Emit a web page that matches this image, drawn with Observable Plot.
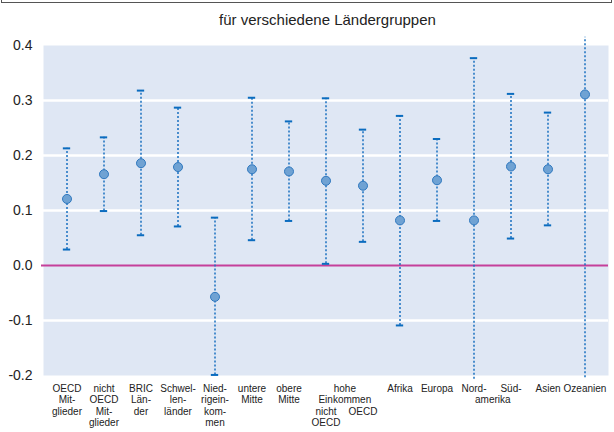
<!DOCTYPE html>
<html>
<head>
<meta charset="utf-8">
<script src="https://cdn.jsdelivr.net/npm/d3@7"></script>
<script src="https://cdn.jsdelivr.net/npm/@observablehq/plot@0.6"></script>
<style>
  html, body { margin: 0; padding: 0; background: white; overflow: hidden; }
  #wrap { position: relative; width: 614px; height: 432px; font-family: "Liberation Sans", Arial, sans-serif; }
  #topbox { position: absolute; top: -12px; left: 1px; width: 609px; height: 13px; border: 1.5px solid #555; }
  #title { position: absolute; top: 11px; left: 0; width: 614px; box-sizing: border-box; padding-left: 41px;
           text-align: center; font-size: 15px; line-height: 18px; color: #222; }
  #chart { position: absolute; top: 0; left: 0; }
</style>
</head>
<body>
<div id="wrap">
  <div id="chart"></div>
  <div id="topbox"></div>
  <div id="title">für verschiedene Ländergruppen</div>
</div>
<script>
// ---- data ----
const categories = ["OECD Mitglieder", "nicht OECD Mitglieder", "BRIC Länder", "Schwellenländer",
  "Niedrigeinkommen", "untere Mitte", "obere Mitte", "hohe Einkommen nicht OECD", "hohe Einkommen OECD",
  "Afrika", "Europa", "Nordamerika", "Südamerika", "Asien", "Ozeanien"];
const estimate = [0.121, 0.166, 0.186, 0.179, -0.057, 0.175, 0.171, 0.154, 0.145, 0.082, 0.155, 0.082, 0.180, 0.175, 0.311];
const upper    = [0.213, 0.233, 0.318, 0.287, 0.087, 0.305, 0.262, 0.304, 0.247, 0.272, 0.230, 0.377, 0.312, 0.278, 0.415];
const lower    = [0.029, 0.099, 0.055, 0.071, -0.199, 0.046, 0.081, 0.003, 0.043, -0.109, 0.081, -0.207, 0.049, 0.073, -0.204];
// tick labels (row 1 onward)
const tickLabels = ["OECD\nMit-\nglieder", "nicht\nOECD\nMit-\nglieder", "BRIC\nLän-\nder", "Schwel-\nlen-\nländer",
  "Nied-\nrigein-\nkom-\nmen", "untere\nMitte", "obere\nMitte", "", "",
  "Afrika", "Europa", "Nord-", "Süd-", "Asien", "Ozeanien"];
// labels starting on a lower row
const subLabels = [
  {cat: "hohe Einkommen nicht OECD", text: "nicht\nOECD", row: 2},
  {cat: "hohe Einkommen OECD", text: "OECD", row: 2}
];
// labels shared between two neighbouring columns (placed at the left one, shifted half a column)
const spanLabels = [
  {cat: "hohe Einkommen nicht OECD", text: "hohe\nEinkommen", row: 0},
  {cat: "Nordamerika", text: "amerika", row: 1}
];
const yTicks = [-0.2, -0.1, 0, 0.1, 0.2, 0.3, 0.4];

// ---- build ----
const data = categories.map((c, i) => ({cat: c, est: estimate[i], lo: lower[i], hi: upper[i]}));
const caps = [];
data.forEach(d => {
  [d.lo, d.hi].forEach(v => { if (v >= -0.2005 && v <= 0.4005) caps.push({cat: d.cat, v}); });
});
const labels = categories.map((c, i) => ({cat: c, text: tickLabels[i]}));

const W = 614, H = 432, mL = 43, mR = 6, mT = 45, mB = 57;
const step = (W - mL - mR) / categories.length;
const fs = 10, lh = 1.15, rowPx = fs * lh, baseDy = 8;

const chart = Plot.plot({
  width: W, height: H,
  marginTop: mT, marginBottom: mB, marginLeft: mL, marginRight: mR,
  style: {fontFamily: "'Liberation Sans', Arial, sans-serif", background: "transparent", overflow: "visible"},
  x: {type: "band", domain: categories, padding: 0, axis: null},
  y: {domain: [-0.2, 0.4], axis: null},
  marks: [
    Plot.frame({fill: "#dfe7f4", stroke: "none"}),
    Plot.gridY(yTicks.filter(v => v > -0.2 && v < 0.4 && v !== 0), {stroke: "white", strokeOpacity: 1, strokeWidth: 2.5}),
    Plot.ruleY([0], {stroke: "#c5409a", strokeWidth: 2, insetLeft: -2}),
    Plot.axisY(yTicks, {tickSize: 0, tickPadding: 11, fontSize: 14, fill: "#222", tickFormat: v => v.toFixed(1)}),
    Plot.ruleX(data, {x: "cat", y1: "lo", y2: "hi", stroke: "#1a70c0", strokeWidth: 1.5, strokeDasharray: "2,2"}),
    Plot.tickY(caps, {x: "cat", y: "v", stroke: "#0b6cbf", strokeWidth: 2, insetLeft: (step - 8) / 2, insetRight: (step - 8) / 2}),
    Plot.dot(data, {x: "cat", y: "est", r: 4.5, fill: "#6fa2d3", stroke: "#2f78bf", strokeWidth: 1}),
    Plot.text(labels, {x: "cat", text: "text", frameAnchor: "bottom", lineAnchor: "top", dy: baseDy,
      fontSize: fs, lineHeight: lh, fill: "#222"}),
    ...subLabels.map(s => Plot.text([s], {x: "cat", text: "text", frameAnchor: "bottom", lineAnchor: "top",
      dy: baseDy + s.row * rowPx, fontSize: fs, lineHeight: lh, fill: "#222"})),
    ...spanLabels.map(s => Plot.text([s], {x: "cat", text: "text", frameAnchor: "bottom", lineAnchor: "top",
      dx: step / 2, dy: baseDy + s.row * rowPx, fontSize: fs, lineHeight: lh, fill: "#222"}))
  ]
});
document.getElementById("chart").appendChild(chart);
</script>
</body>
</html>
